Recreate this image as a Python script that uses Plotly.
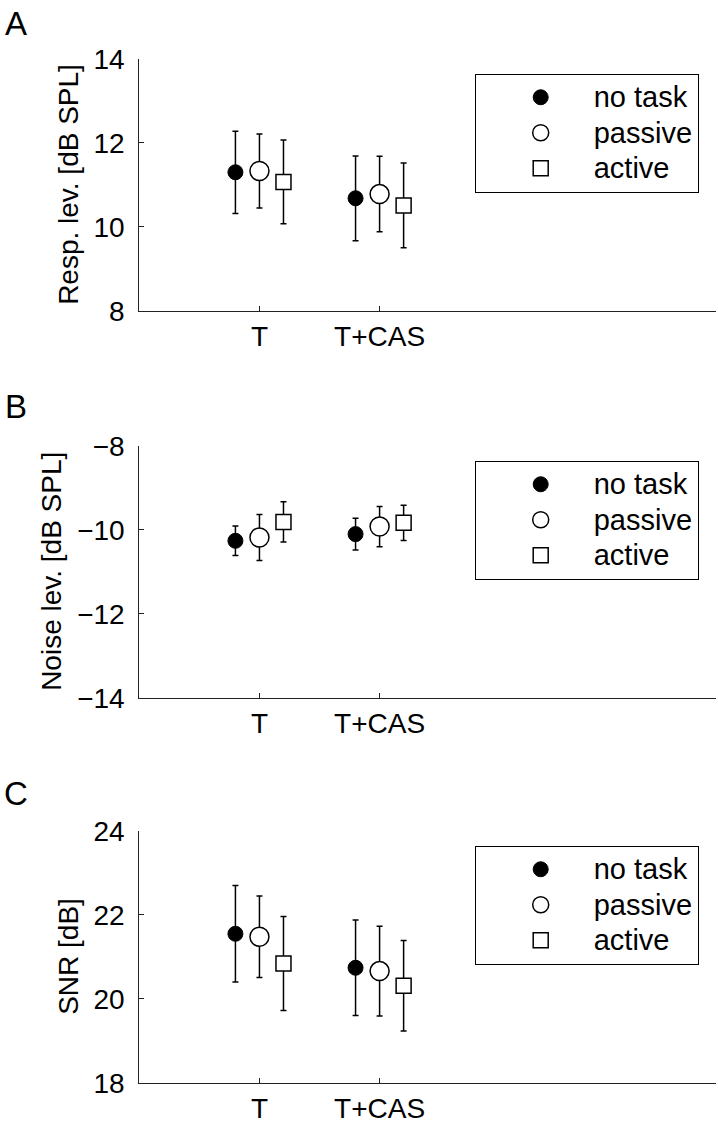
import plotly.graph_objects as go

# ---- data ----
conditions = ["T", "T+CAS"]
groups = ["no task", "passive", "active"]

resp_mean = {"no task": [11.30, 10.68], "passive": [11.33, 10.78], "active": [11.07, 10.51]}
resp_err = {"no task": [0.98, 1.01], "passive": [0.88, 0.90], "active": [1.00, 1.01]}

noise_mean = {"no task": [-10.26, -10.10], "passive": [-10.18, -9.92], "active": [-9.81, -9.83]}
noise_err = {"no task": [0.35, 0.38], "passive": [0.55, 0.48], "active": [0.48, 0.42]}

snr_mean = {"no task": [21.55, 20.74], "passive": [21.48, 20.66], "active": [20.84, 20.31]}
snr_err = {"no task": [1.15, 1.14], "passive": [0.97, 1.07], "active": [1.12, 1.08]}

panels = [
    ("A", "Resp. lev. [dB SPL]", resp_mean, resp_err, [8, 14]),
    ("B", "Noise lev. [dB SPL]", noise_mean, noise_err, [-14, -8]),
    ("C", "SNR [dB]", snr_mean, snr_err, [18, 24]),
]

# ---- styling ----
W, H = 718, 1124
FONT = "Liberation Sans, Arial, Helvetica, sans-serif"
x_left, x_right = 139.3, 716
panel_tops = [59, 446, 831]
panel_h = 251.7
title_x = [69, 52, 69]
letter_y = [23, 406, 793]
offsets = {"no task": -0.2, "passive": 0.0, "active": 0.2}
mstyle = {
    "no task": dict(symbol="circle", size=15, color="black", line=dict(color="black", width=1)),
    "passive": dict(symbol="circle", size=19, color="white", line=dict(color="black", width=1.5)),
    "active": dict(symbol="square", size=15, color="white", line=dict(color="black", width=1.5)),
}
axcol = "#222222"

fig = go.Figure()
annotations = []
cat_pos = [1, 2]

for i, (letter, ytitle, means, errs, yr) in enumerate(panels):
    n = i + 1
    xa = "x" if n == 1 else f"x{n}"
    ya = "y" if n == 1 else f"y{n}"
    leg = "legend" if n == 1 else f"legend{n}"
    for g in groups:
        fig.add_trace(go.Scatter(
            x=[p + offsets[g] for p in cat_pos],
            y=means[g],
            mode="markers",
            name=f"<span style='font-size:29px'>{g}</span>",
            marker=mstyle[g],
            error_y=dict(type="data", array=errs[g], visible=True,
                         color="black", thickness=1.5, width=3),
            xaxis=xa, yaxis=ya, legend=leg, legendgroup=f"{letter}{g}",
        ))
    top = panel_tops[i]
    bot = top + panel_h
    dom_y = [1 - bot / H, 1 - top / H]
    axis_common = dict(showline=True, linecolor=axcol, linewidth=1, ticks="inside",
                       ticklen=5, tickwidth=1, tickcolor=axcol, showgrid=False,
                       zeroline=False, automargin=False,
                       tickfont=dict(family=FONT, size=28, color="black"))
    xkey = "xaxis" if n == 1 else f"xaxis{n}"
    ykey = "yaxis" if n == 1 else f"yaxis{n}"
    fig.update_layout({
        xkey: dict(domain=[x_left / W, x_right / W], range=[0, 4.8], tickvals=cat_pos,
                   ticktext=conditions, anchor=ya, ticklabelstandoff=1, **axis_common),
        ykey: dict(domain=dom_y, range=yr, dtick=2, anchor=xa, ticklabelstandoff=8,
                   **axis_common),
        leg: dict(x=474.7 / W, y=1 - (top + 14.5) / H, xanchor="left", yanchor="top",
                  bordercolor="black", borderwidth=1, bgcolor="white",
                  font=dict(family=FONT, size=25, color="black"),
                  itemwidth=96, indentation=12, tracegroupgap=0, traceorder="normal"),
    })
    annotations.append(dict(text=ytitle, x=title_x[i] / W, y=1 - (top + panel_h / 2) / H,
                            xref="paper", yref="paper", xanchor="center", yanchor="middle",
                            textangle=-90, showarrow=False,
                            font=dict(family=FONT, size=28, color="black")))
    annotations.append(dict(text=letter, x=16 / W, y=1 - letter_y[i] / H, xref="paper",
                            yref="paper", xanchor="center", yanchor="middle",
                            showarrow=False, font=dict(family=FONT, size=33, color="black")))

fig.update_layout(width=W, height=H, margin=dict(l=0, r=0, t=0, b=0, autoexpand=False),
                  plot_bgcolor="white", paper_bgcolor="white",
                  annotations=annotations, showlegend=True)

fig.write_html("out.html", config={"displayModeBar": False},
               post_script="document.body.style.margin='0';")
